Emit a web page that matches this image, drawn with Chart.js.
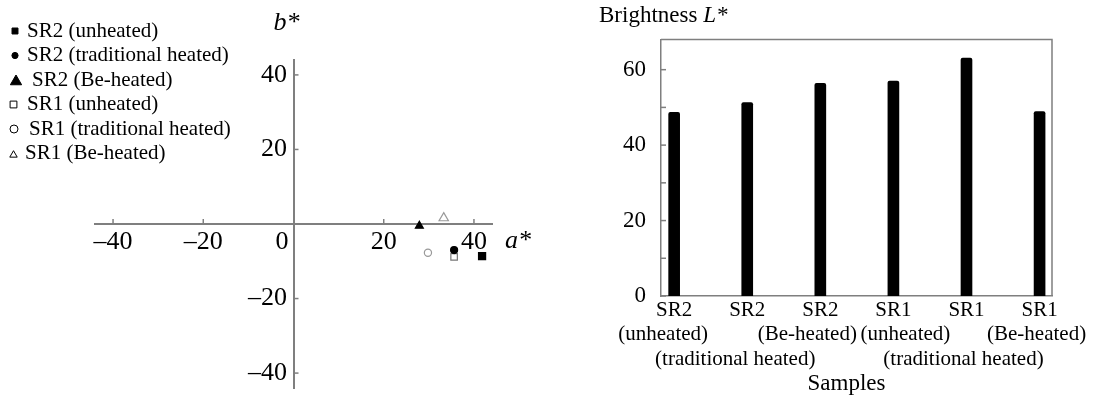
<!DOCTYPE html>
<html><head><meta charset="utf-8">
<script src="https://cdn.jsdelivr.net/npm/chart.js@4/dist/chart.umd.min.js"></script>
<style>
html,body{margin:0;padding:0;background:#fff;}
#wrap{position:relative;width:1094px;height:398px;overflow:hidden;}
#c1{position:absolute;left:0;top:0;}
#c2{position:absolute;left:545px;top:0;}
</style></head><body>
<div id="wrap"><canvas id="c1" width="545" height="398"></canvas><canvas id="c2" width="549" height="398"></canvas></div>
<script>
// ---------- DATA ----------
const seriesNames = ["SR2 (unheated)", "SR2 (traditional heated)", "SR2 (Be-heated)", "SR1 (unheated)", "SR1 (traditional heated)", "SR1 (Be-heated)"];
const aValues = [41.8, 35.6, 27.9, 35.6, 29.8, 33.3];
const bValues = [-8.6, -7.0, -0.5, -8.8, -7.7, 1.6];
const abTicks = [-40, -20, 0, 20, 40];
const sampleLabels = [["SR2", "(unheated)"], ["SR2", "", "(traditional heated)"], ["SR2", "(Be-heated)"], ["SR1", "(unheated)"], ["SR1", "", "(traditional heated)"], ["SR1", "(Be-heated)"]];
const brightness = [48.7, 51.3, 56.4, 57.0, 63.1, 48.9];
const lTicks = [0, 20, 40, 60];
const lAllTicks = [0, 10, 20, 30, 40, 50, 60];

// ---------- STYLES ----------
const SERIF = "'Liberation Serif', 'Times New Roman', serif";
Chart.defaults.font.family = SERIF;
Chart.defaults.color = '#000';
const AXIS = '#7f7f7f';
const markers = [
  {style: 'rect', r: 5, fill: '#000', stroke: '#000'},
  {style: 'circle', r: 3.5, fill: '#000', stroke: '#000'},
  {style: 'triangle', r: 4.6, fill: '#000', stroke: '#000'},
  {style: 'rect', r: 4.6, fill: '#fff', stroke: '#777'},
  {style: 'circle', r: 3.6, fill: '#fff', stroke: '#999'},
  {style: 'triangle', r: 5.4, fill: '#fff', stroke: '#999'}
];
const legendMarks = [
  {r: 4.2, x: 15, tx: 27},
  {r: 3.1, x: 15, tx: 27},
  {r: 6.5, x: 16, tx: 32},
  {r: 4.8, x: 13.5, tx: 27},
  {r: 4, x: 14, tx: 29},
  {r: 4.3, x: 13.5, tx: 25}
];
// horizontal shifts of the 2nd/3rd label lines under the bars (px)
const subLineShift = [-11, -12, -13, 12, -3, -3];
const fmt = v => v === 0 ? '' : (v < 0 ? '\u2013' + Math.abs(v) : String(v));
const noPad = s => { s.paddingTop = 0; s.paddingBottom = 0; s.paddingLeft = 0; s.paddingRight = 0; };

// ---------- LEFT: a*-b* scatter ----------
const scatterDeco = {
  id: 'scatterDeco',
  afterDraw(chart) {
    const ctx = chart.ctx, xs = chart.scales.x, ys = chart.scales.y;
    const x0 = xs.getPixelForValue(0), y0 = ys.getPixelForValue(0);
    ctx.save();
    ctx.strokeStyle = AXIS; ctx.lineWidth = 1.5;
    abTicks.forEach(t => {
      if (t === 0) return;
      const px = xs.getPixelForValue(t);
      ctx.beginPath(); ctx.moveTo(px, y0); ctx.lineTo(px, y0 - 5); ctx.stroke();
      const py = ys.getPixelForValue(t);
      ctx.beginPath(); ctx.moveTo(x0, py); ctx.lineTo(x0 + 5, py); ctx.stroke();
    });
    ctx.fillStyle = '#000';
    ctx.font = "26px " + SERIF;
    ctx.textAlign = 'right'; ctx.textBaseline = 'middle';
    ctx.fillText('0', x0 - 5, y0 + 18);
    ctx.font = "italic 26px " + SERIF;
    ctx.textAlign = 'left';
    ctx.fillText('a*', xs.right + 13, y0 + 17);
    ctx.textAlign = 'center';
    ctx.fillText('b*', x0 - 7, ys.top - 37);
    // legend
    ctx.font = "21px " + SERIF;
    ctx.textAlign = 'left';
    chart.data.datasets.forEach((ds, i) => {
      const y = 31 + i * 24.5;
      const m = markers[i], lm = legendMarks[i];
      ctx.fillStyle = m.fill === '#000' ? '#000' : '#fff';
      ctx.strokeStyle = '#000';
      ctx.lineWidth = 1;
      Chart.helpers.drawPoint(ctx, {pointStyle: m.style, radius: lm.r, borderWidth: 1}, lm.x, y + (m.style === 'triangle' ? 1.5 : 0));
      ctx.fillStyle = '#000';
      ctx.fillText(ds.label, lm.tx, y);
    });
    ctx.restore();
  }
};

new Chart(document.getElementById('c1'), {
  type: 'scatter',
  data: {
    datasets: seriesNames.map((name, i) => ({
      label: name,
      data: [{x: aValues[i], y: bValues[i]}],
      pointStyle: markers[i].style,
      pointRadius: markers[i].r,
      backgroundColor: markers[i].fill,
      borderColor: markers[i].stroke,
      borderWidth: 1.2
    }))
  },
  options: {
    responsive: false, animation: false, devicePixelRatio: 1,
    layout: {padding: {left: 95, right: 53, top: 60, bottom: 10}},
    plugins: {legend: {display: false}, tooltip: {enabled: false}},
    scales: {
      x: {
        type: 'linear', position: {y: 0}, min: -44, max: 44,
        afterBuildTicks: s => { s.ticks = abTicks.map(v => ({value: v})); },
        afterFit: noPad,
        ticks: {callback: v => fmt(v), font: {size: 26}, color: '#000', padding: 3, maxRotation: 0, autoSkip: false},
        grid: {display: false, drawTicks: false, tickLength: 0},
        border: {display: true, color: AXIS, width: 2}
      },
      y: {
        type: 'linear', position: {x: 0}, min: -44, max: 44,
        afterBuildTicks: s => { s.ticks = abTicks.map(v => ({value: v})); },
        afterFit: noPad,
        ticks: {callback: v => (v === 0 ? '' : fmt(v) + ' '), font: {size: 26}, color: '#000', padding: 6, autoSkip: false},
        grid: {display: false, drawTicks: false, tickLength: 0},
        border: {display: true, color: AXIS, width: 2}
      }
    }
  },
  plugins: [scatterDeco]
});

// ---------- RIGHT: Brightness bars ----------
const barDeco = {
  id: 'barDeco',
  afterDraw(chart) {
    const ctx = chart.ctx, ca = chart.chartArea, ys = chart.scales.y, xs = chart.scales.x;
    ctx.save();
    ctx.strokeStyle = AXIS; ctx.lineWidth = 1.5;
    ctx.beginPath();
    ctx.moveTo(ca.left, ca.top); ctx.lineTo(ca.right, ca.top); ctx.lineTo(ca.right, ca.bottom);
    ctx.stroke();
    lAllTicks.forEach(t => {
      const py = ys.getPixelForValue(t);
      ctx.beginPath(); ctx.moveTo(ca.left, py); ctx.lineTo(ca.left + 5, py); ctx.stroke();
    });
    ctx.fillStyle = '#000';
    ctx.textBaseline = 'middle';
    // category labels
    ctx.font = "21px " + SERIF;
    ctx.textAlign = 'center';
    sampleLabels.forEach((lines, i) => {
      const px = xs.getPixelForValue(i);
      lines.forEach((txt, j) => {
        if (!txt) return;
        const dx = j === 0 ? 0 : subLineShift[i];
        ctx.fillText(txt, px + dx, ca.bottom + 14 + j * 24.5);
      });
    });
    ctx.font = "23px " + SERIF;
    ctx.fillText('Samples', (ca.left + ca.right) / 2 - 10, ca.bottom + 88);
    // y title
    ctx.textAlign = 'left';
    const t1 = 'Brightness ';
    ctx.fillText(t1, 54, 16);
    const w = ctx.measureText(t1).width;
    ctx.font = "italic 23px " + SERIF;
    ctx.fillText('L*', 54 + w, 16);
    ctx.restore();
  }
};

new Chart(document.getElementById('c2'), {
  type: 'bar',
  data: {
    datasets: [{
      data: brightness.map((v, i) => ({x: i, y: v})),
      backgroundColor: '#000', borderColor: '#000', borderWidth: 0,
      barThickness: 11, borderRadius: 2, borderSkipped: 'bottom'
    }]
  },
  options: {
    responsive: false, animation: false, devicePixelRatio: 1,
    layout: {padding: {left: 0, right: 42, top: 39.5, bottom: 0}},
    plugins: {legend: {display: false}, tooltip: {enabled: false}},
    scales: {
      x: {
        type: 'linear', min: -0.18, max: 5.17, offset: false,
        afterBuildTicks: s => { s.ticks = sampleLabels.map((_, i) => ({value: i})); },
        afterFit: s => { noPad(s); s.height = 102; },
        ticks: {display: false},
        grid: {display: false, drawTicks: false, tickLength: 0},
        border: {display: true, color: AXIS, width: 1.5}
      },
      y: {
        type: 'linear', min: 0, max: 68,
        afterBuildTicks: s => { s.ticks = lTicks.map(v => ({value: v})); },
        afterFit: s => { noPad(s); s.width = 116; },
        ticks: {font: {size: 23}, color: '#000', padding: 15},
        grid: {display: false, drawTicks: false, tickLength: 0},
        border: {display: true, color: AXIS, width: 1.5}
      }
    }
  },
  plugins: [barDeco]
});
</script>
</body></html>
